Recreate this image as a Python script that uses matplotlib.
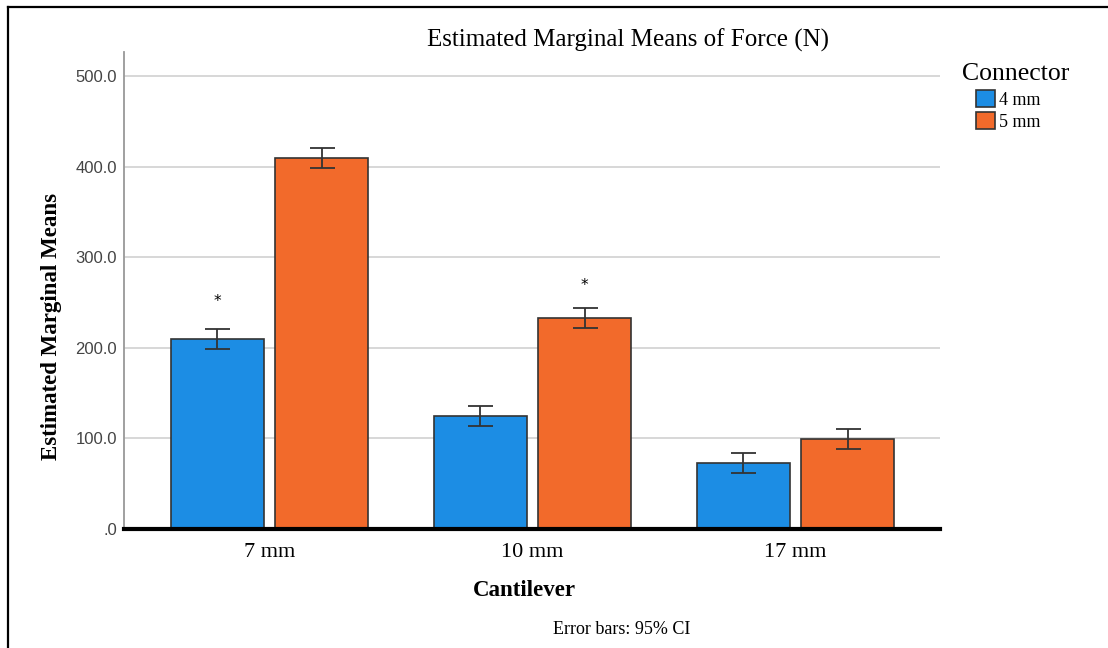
import numpy as np
import matplotlib.pyplot as plt
from matplotlib.lines import Line2D
from matplotlib.patches import Patch

# data
cantilever = ['7 mm', '10 mm', '17 mm']
connector = ['4 mm', '5 mm']
means_4mm = [209.6, 124.9, 73.3]
means_5mm = [410.0, 232.8, 99.8]
ci_4mm = [11.0, 11.0, 11.0]
ci_5mm = [11.3, 11.0, 11.0]
# significance markers: (group index, series index, y value)
stars = [(0, 0, 251.0), (1, 1, 268.5)]

blue = '#1C8DE4'
orange = '#F26A2B'
edge = '#333333'
serif = 'Liberation Serif'

fig = plt.figure(figsize=(11.08, 6.48), dpi=100)
ax = fig.add_axes([124/1108, 1 - 529/648, 816/1108, 477/648])

x = np.arange(len(cantilever))
width = 0.354
offset = 0.1987
errkw = dict(ecolor=edge, elinewidth=1.3, capsize=9, capthick=1.3)
ax.bar(x - offset, means_4mm, width, color=blue, edgecolor=edge, linewidth=1.2,
       yerr=ci_4mm, error_kw=errkw, zorder=3)
ax.bar(x + offset, means_5mm, width, color=orange, edgecolor=edge, linewidth=1.2,
       yerr=ci_5mm, error_kw=errkw, zorder=3)

for gi, si, yv in stars:
    xs = x[gi] + (offset if si == 1 else -offset)
    ax.text(xs, yv, '*', ha='center', va='center', fontsize=11, family='DejaVu Sans')

ax.set_xlim(-0.553, 2.55)
ax.set_ylim(0, 527)
ax.set_yticks([0, 100, 200, 300, 400, 500])
ax.set_yticklabels(['.0', '100.0', '200.0', '300.0', '400.0', '500.0'],
                   family='Liberation Sans', fontsize=12, color='#444444')
ax.set_xticks(x)
ax.set_xticklabels(cantilever, family=serif, fontsize=16)
ax.tick_params(axis='y', length=0, pad=5)
ax.tick_params(axis='x', length=0, pad=10)

ax.yaxis.grid(True, color='#d4d4d4', linewidth=1.3, zorder=0)
ax.set_axisbelow(True)
for s in ['top', 'right']:
    ax.spines[s].set_visible(False)
ax.spines['left'].set_color('#999999')
ax.spines['left'].set_linewidth(1.3)
ax.spines['bottom'].set_color('black')
ax.spines['bottom'].set_linewidth(3)
ax.spines['bottom'].set_zorder(4)

fig.text(628/1108, 1 - 40/648, 'Estimated Marginal Means of Force (N)',
         family=serif, fontsize=18, ha='center', va='center')
fig.text(52/1108, 1 - 326/648, 'Estimated Marginal Means', family=serif,
         fontsize=16.5, fontweight='bold', rotation=90, ha='center', va='center')
fig.text(524/1108, 1 - 590/648, 'Cantilever', family=serif, fontsize=16.5,
         fontweight='bold', ha='center', va='center')
fig.text(622/1108, 1 - 630/648, 'Error bars: 95% CI', family=serif,
         fontsize=13, ha='center', va='center')

# legend
fig.text(1016/1108, 1 - 74/648, 'Connector', family=serif, fontsize=18.5,
         ha='center', va='center')
handles = [Patch(facecolor=blue, edgecolor=edge, linewidth=1.2),
           Patch(facecolor=orange, edgecolor=edge, linewidth=1.2)]
fig.legend(handles, connector, loc='upper left',
           bbox_to_anchor=(976/1108, 1 - 90/648), frameon=False,
           prop={'family': serif, 'size': 13}, handlelength=1.05,
           handleheight=1.05, handletextpad=0.25, labelspacing=0.2,
           borderpad=0, borderaxespad=0)

# outer frame (top and left only)
fig.add_artist(Line2D([8/1108, 1], [1 - 6.5/648, 1 - 6.5/648], color='black',
                      linewidth=1.6, transform=fig.transFigure))
fig.add_artist(Line2D([8/1108, 8/1108], [0, 1 - 6.5/648], color='black',
                      linewidth=1.6, transform=fig.transFigure))

fig.savefig('out.png', dpi=100)
